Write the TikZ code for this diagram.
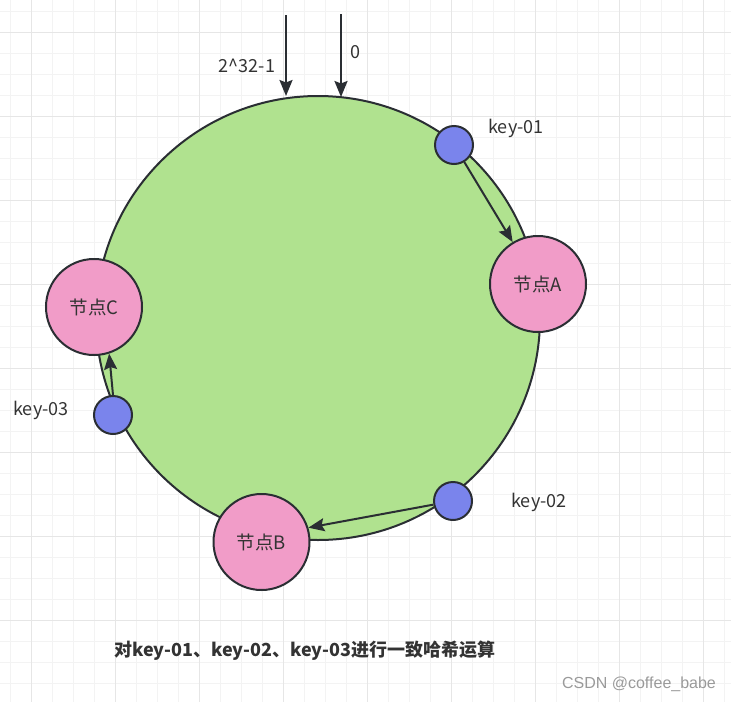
\documentclass[tikz,border=0pt]{standalone}
\usepackage{fontspec}
\setmainfont{Noto Sans CJK SC}
\newfontfamily\wmfont{Liberation Sans}
\usetikzlibrary{arrows.meta}
\definecolor{gridminor}{HTML}{F3F3F3}
\definecolor{gridmajor}{HTML}{E6E6E6}
\definecolor{ringgreen}{HTML}{B0E28F}
\definecolor{nodepink}{HTML}{F19CC8}
\definecolor{keyblue}{HTML}{7A84EC}
\definecolor{edgedark}{HTML}{2A2E33}
\definecolor{textdark}{HTML}{333333}
\definecolor{wmgray}{HTML}{9A9A9A}
\tikzset{
  ring/.style={circle, draw=edgedark, line width=2pt, fill=ringgreen, minimum size=444pt, inner sep=0pt},
  servernode/.style={circle, draw=edgedark, line width=2pt, fill=nodepink, minimum size=96pt, inner sep=0pt, text=textdark, font=\fontsize{18.5}{20}\selectfont},
  keynode/.style={circle, draw=edgedark, line width=2pt, fill=keyblue, minimum size=38pt, inner sep=0pt},
  lbl/.style={text=textdark, font=\fontsize{18}{20}\selectfont, inner sep=0pt},
  conn/.style={draw=edgedark, line width=2pt, -{Stealth[length=16pt,width=13pt,inset=2.5pt]}},
}
\begin{document}
\begin{tikzpicture}[x=1pt,y=-1pt]
\useasboundingbox (0,0) rectangle (731,702);
\fill[white] (0,0) rectangle (731,702);
% grid
\foreach \k in {0,...,34} {
  \draw[gridminor, line width=1pt] ({10+21*\k},0) -- ({10+21*\k},702);
  \draw[gridminor, line width=1pt] (0,{11+21*\k}) -- (731,{11+21*\k});
}
\foreach \k in {0,...,8} {
  \draw[gridmajor, line width=1pt] ({31+84*\k},0) -- ({31+84*\k},702);
  \draw[gridmajor, line width=1pt] (0,{32+84*\k}) -- (731,{32+84*\k});
}
% ring
\node[ring] (ring) at (318,318) {};
% servers
\node[servernode] (A) at (538,284) {节点A};
\node[servernode] (B) at (261.5,542) {节点B};
\node[servernode] (C) at (94,307) {节点C};
% keys
\node[keynode] (k1) at (454,145) {};
\node[keynode] (k2) at (453,501) {};
\node[keynode] (k3) at (113,415) {};
% top arrows
\coordinate (s1) at (286,15);
\coordinate (s2) at (341,14);
\coordinate (e1) at (286,96);
\coordinate (e2) at (341,97);
\draw[conn, line width=2.2pt] (s1) -- (e1);
\draw[conn, line width=2.2pt] (s2) -- (e2);
\node[lbl] (t1) at (247,66) {2\textasciicircum32-1};
\node[lbl] (t0) at (355,52) {0};
% key labels
\node[lbl] (l1) at (516,128) {key-01};
\node[lbl] (l2) at (539,502) {key-02};
\node[lbl] (l3) at (41,410) {key-03};
% key to node arrows
\draw[conn] (k1) -- (A);
\draw[conn] (k2) -- (B.17);
\draw[conn] (k3.north) -- (C.-72);
% caption
\node[text=textdark, font=\bfseries\fontsize{18}{20}\selectfont, inner sep=0pt] (cap) at (305,651) {对key-01、key-02、key-03进行一致哈希运算};
\node[text=wmgray, font=\wmfont\fontsize{16}{18}\selectfont, inner sep=0pt] (wm) at (639,684) {CSDN @coffee\_babe};
\end{tikzpicture}
\end{document}
